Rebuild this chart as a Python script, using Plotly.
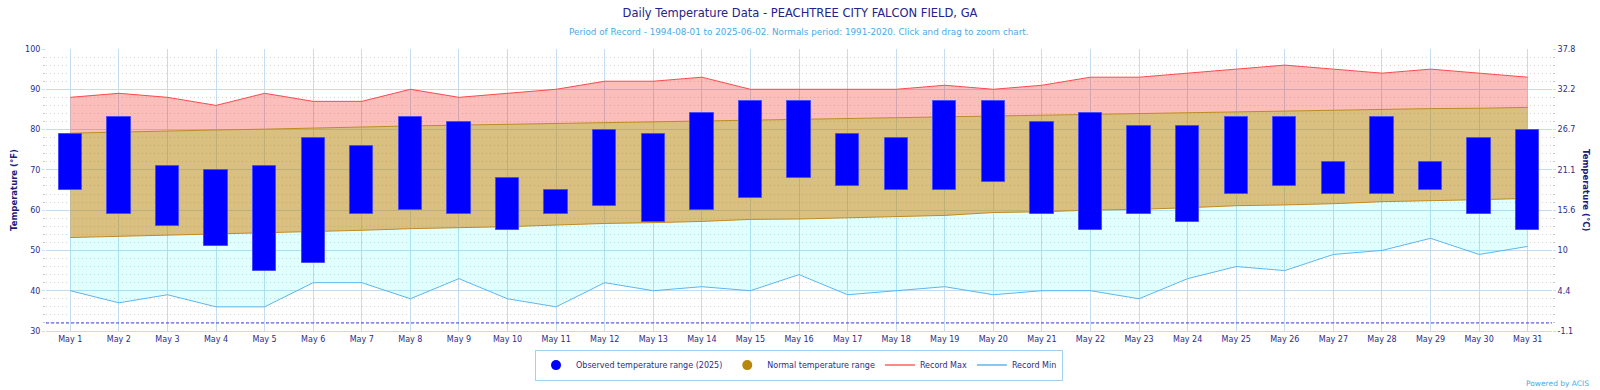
import plotly.graph_objects as go

days = [f"May {d}" for d in range(1, 32)]

obs_high = [79, 83, 71, 70, 71, 78, 76, 83, 82, 68, 65, 80, 79, 84, 87, 87, 79, 78, 87, 87,
            82, 84, 81, 81, 83, 83, 72, 83, 72, 78, 80]
obs_low = [65, 59, 56, 51, 45, 47, 59, 60, 59, 55, 59, 61, 57, 60, 63, 68, 66, 65, 65, 67,
           59, 55, 59, 57, 64, 66, 64, 64, 65, 59, 55]

normal_high = [79.1, 79.4, 79.7, 79.9, 80.1, 80.4, 80.6, 80.9, 81.1, 81.3, 81.6, 81.8, 82.0,
               82.2, 82.4, 82.6, 82.8, 83.0, 83.2, 83.4, 83.6, 83.9, 84.0, 84.2, 84.5, 84.6,
               84.8, 85.0, 85.2, 85.3, 85.5]
normal_low = [53.2, 53.5, 53.7, 54.0, 54.3, 54.6, 55.0, 55.4, 55.6, 55.9, 56.3, 56.7, 56.9,
              57.2, 57.7, 57.8, 58.1, 58.4, 58.7, 59.4, 59.6, 60.0, 60.2, 60.6, 61.1, 61.3,
              61.6, 62.1, 62.3, 62.6, 62.9]

record_max = [88, 89, 88, 86, 89, 87, 87, 90, 88, 89, 90, 92, 92, 93, 90, 90, 90, 90, 91, 90,
              91, 93, 93, 94, 95, 96, 95, 94, 95, 94, 93]
record_min = [40, 37, 39, 36, 36, 42, 42, 38, 43, 38, 36, 42, 40, 41, 40, 44, 39, 40, 41, 39,
              40, 40, 38, 43, 46, 45, 49, 50, 53, 49, 51]

f_ticks = [30, 40, 50, 60, 70, 80, 90, 100]
freezing_f = 32


def c_label(f):
    s = f"{(f - 32) * 5 / 9:.1f}"
    return s[:-2] if s.endswith(".0") else s


c_ticks = [c_label(f) for f in f_ticks]

NAVY = "#2b2b8c"
GRID = "#c3dcef"
FONT = "DejaVu Sans"
TICK = 8

fig = go.Figure()

# record min line (base of cyan band)
fig.add_trace(go.Scatter(x=days, y=record_min, mode="lines",
                         line=dict(color="#5cb6f2", width=1), showlegend=False, hoverinfo="skip"))
# normal low, cyan fill down to record min
fig.add_trace(go.Scatter(x=days, y=normal_low, mode="lines", fill="tonexty",
                         fillcolor="rgba(0,255,255,0.12)",
                         line=dict(color="#c08a22", width=1), showlegend=False, hoverinfo="skip"))
# normal high, tan fill down to normal low
fig.add_trace(go.Scatter(x=days, y=normal_high, mode="lines", fill="tonexty",
                         fillcolor="rgba(184,134,11,0.52)",
                         line=dict(color="#c08a22", width=1), showlegend=False, hoverinfo="skip"))
# record max, red fill down to normal high
fig.add_trace(go.Scatter(x=days, y=record_max, mode="lines", fill="tonexty",
                         fillcolor="rgba(245,40,30,0.30)",
                         line=dict(color="#ff4a4a", width=1), showlegend=False, hoverinfo="skip"))

# observed range bars (on an overlay axis so they sit above the bands)
fig.add_trace(go.Bar(x=days, y=[h - l for h, l in zip(obs_high, obs_low)], base=obs_low,
                     width=0.48, yaxis="y3",
                     marker=dict(color="#0000ff", line=dict(color="#4a4aff", width=1)),
                     showlegend=False))

# legend entries
fig.add_trace(go.Scatter(x=[None], y=[None], mode="markers", name="Observed temperature range (2025)",
                         marker=dict(color="#0000ff", size=10, symbol="circle")))
fig.add_trace(go.Scatter(x=[None], y=[None], mode="markers", name="Normal temperature range",
                         marker=dict(color="#b8860b", size=10, symbol="circle")))
fig.add_trace(go.Scatter(x=[None], y=[None], mode="lines", name="Record Max",
                         line=dict(color="#ff6060", width=1.5)))
fig.add_trace(go.Scatter(x=[None], y=[None], mode="lines", name="Record Min", yaxis="y2",
                         line=dict(color="#5cb6f2", width=1.5)))

# freezing line
fig.add_shape(type="line", xref="paper", x0=0, x1=1, yref="y", y0=freezing_f, y1=freezing_f,
              line=dict(color="#3a3ae0", width=1, dash="3px,2px"))

minor = dict(dtick=2, tick0=30, showgrid=True, gridcolor="#d2d2d2", griddash="1px,3px", gridwidth=1,
             ticks="outside", ticklen=2, tickcolor="#c8c8c8")

fig.update_layout(
    width=1600, height=390,
    margin=dict(l=46, r=48, t=49, b=59, autoexpand=False),
    paper_bgcolor="white", plot_bgcolor="white",
    font=dict(family=FONT, size=TICK, color=NAVY),
    bargap=0,
    title=dict(text="Daily Temperature Data - PEACHTREE CITY FALCON FIELD, GA",
               x=0.5, xanchor="center", y=1 - 12.5 / 390, yanchor="middle",
               font=dict(family=FONT, size=11.5, color="#23238a")),
    xaxis=dict(type="category", range=[-0.5, 30.5], showgrid=True, gridcolor=GRID, gridwidth=1,
               showline=True, linecolor=GRID, ticks="", tickfont=dict(size=TICK, color=NAVY),
               fixedrange=True, zeroline=False, automargin=False),
    yaxis=dict(range=[30, 100], tickvals=f_ticks, showgrid=True, gridcolor=GRID, gridwidth=1,
               ticks="outside", ticklen=3, tickcolor=GRID, zeroline=False, automargin=False,
               tickfont=dict(size=TICK, color=NAVY), minor=minor),
    yaxis2=dict(range=[30, 100], overlaying="y", side="right", tickvals=f_ticks, ticktext=c_ticks,
                showgrid=False, ticks="outside", ticklen=3, tickcolor=GRID, zeroline=False,
                automargin=False, tickfont=dict(size=TICK, color=NAVY),
                minor=dict(dtick=2, tick0=30, ticks="outside", ticklen=2, tickcolor="#c8c8c8")),
    yaxis3=dict(range=[30, 100], overlaying="y", visible=False, showgrid=False, zeroline=False),
    legend=dict(orientation="h", x=0.5, xanchor="center", y=-0.121, yanchor="middle",
                traceorder="normal", bordercolor="#9fd2f2", borderwidth=1, bgcolor="white",
                font=dict(size=TICK, color=NAVY), itemwidth=30),
    annotations=[
        dict(text="Period of Record - 1994-08-01 to 2025-06-02. Normals period: 1991-2020. Click and drag to zoom chart.",
             xref="paper", yref="paper", x=0.5, y=1 + 17.3 / 282, xanchor="center", yanchor="middle",
             showarrow=False, font=dict(family=FONT, size=8.8, color="#4aaae6")),
        dict(text="<b>Temperature (°F)</b>", xref="paper", yref="paper", x=(14 - 46) / 1506, y=0.5,
             textangle=-90, showarrow=False, xanchor="center", yanchor="middle",
             font=dict(family=FONT, size=8.5, color="#1c1c80")),
        dict(text="<b>Temperature (°C)</b>", xref="paper", yref="paper", x=(1586 - 46) / 1506, y=0.5,
             textangle=90, showarrow=False, xanchor="center", yanchor="middle",
             font=dict(family=FONT, size=8.5, color="#1c1c80")),
        dict(text="Powered by ACIS", xref="paper", yref="paper", x=(1591 - 46) / 1506,
             y=(331 - 383) / 282, xanchor="right", yanchor="middle", showarrow=False,
             font=dict(family=FONT, size=7.5, color="#4aaae6")),
    ],
)

fig.write_html("out.html", config={"displayModeBar": False},
               post_script="document.body.style.margin='0';document.body.style.overflow='hidden';")
